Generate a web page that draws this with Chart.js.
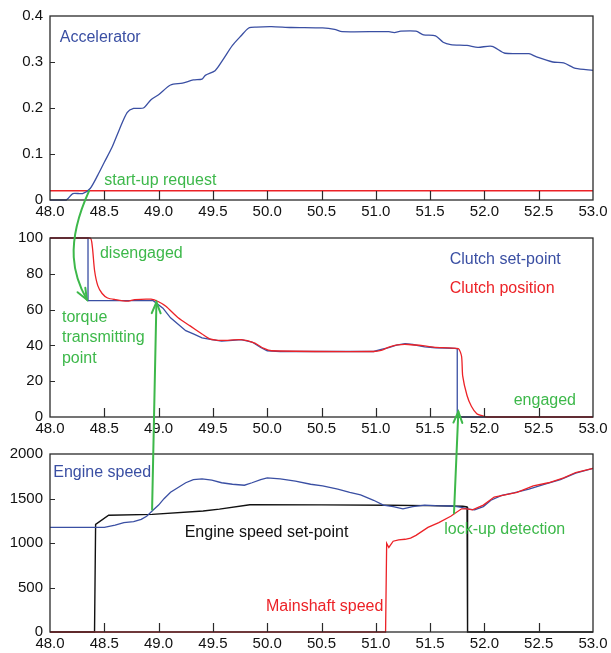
<!DOCTYPE html>
<html>
<head>
<meta charset="utf-8">
<script src="https://cdn.jsdelivr.net/npm/chart.js@4/dist/chart.umd.min.js"></script>
<style>
  html, body { margin: 0; padding: 0; background: #fff; }
  #wrap { position: relative; width: 611px; height: 653px; }
  canvas { position: absolute; left: 0; }
</style>
</head>
<body>
<div id="wrap">
  <canvas id="c1" width="611" height="222" style="top:0px"></canvas>
  <canvas id="c2" width="611" height="216" style="top:222px"></canvas>
  <canvas id="c3" width="611" height="215" style="top:438px"></canvas>
  <canvas id="ov" width="611" height="653" style="top:0px;pointer-events:none"></canvas>
</div>
<script>
// ---------- data ----------
const timeTicks = [48.0, 48.5, 49.0, 49.5, 50.0, 50.5, 51.0, 51.5, 52.0, 52.5, 53.0];

// Panel 1: accelerator
const accelT = [48.0, 48.15, 48.21, 48.30, 48.37, 48.44, 48.50, 48.57, 48.64, 48.71, 48.77, 48.86, 48.93, 49.0, 49.11, 49.22, 49.32, 49.40, 49.43, 49.52, 49.59, 49.68, 49.76, 49.83, 49.90, 50.04, 50.22, 50.51, 50.62, 50.69, 51.12, 51.17, 51.23, 51.37, 51.44, 51.55, 51.62, 51.69, 51.84, 51.94, 52.07, 52.19, 52.41, 52.48, 52.63, 52.73, 52.84, 53.0];
const accelV = [0, 0, 0.014, 0.014, 0.025, 0.054, 0.082, 0.114, 0.154, 0.19, 0.199, 0.2, 0.218, 0.229, 0.25, 0.254, 0.261, 0.263, 0.271, 0.281, 0.304, 0.336, 0.357, 0.374, 0.376, 0.377, 0.375, 0.374, 0.371, 0.366, 0.366, 0.364, 0.367, 0.367, 0.359, 0.357, 0.343, 0.338, 0.336, 0.332, 0.334, 0.319, 0.318, 0.311, 0.3, 0.298, 0.286, 0.282];
const startReqT = [48.0, 53.0];
const startReqV = [0.02, 0.02];

// Panel 2: clutch
const clutchSetT = [48.0, 48.35, 48.35, 48.95, 49.04, 49.11, 49.18, 49.25, 49.32, 49.40, 49.49, 49.58, 49.68, 49.76, 49.86, 49.94, 50.0, 50.12, 50.98, 51.05, 51.12, 51.19, 51.27, 51.34, 51.45, 51.55, 51.73, 51.75, 51.75, 53.0];
const clutchSetV = [100, 100, 65, 65, 60.8, 55.4, 51.8, 48.2, 46.4, 44.2, 43.2, 42.4, 42.8, 43.2, 41.9, 38.8, 37, 36.6, 36.6, 37.8, 38.8, 40.1, 41, 40.5, 39.2, 38.7, 38.3, 38.0, 0, 0];
const clutchPosT = [48.0, 48.37, 48.39, 48.41, 48.44, 48.48, 48.53, 48.60, 48.71, 48.78, 48.93, 49.0, 49.07, 49.18, 49.29, 49.40, 49.47, 49.58, 49.76, 49.88, 49.97, 50.04, 50.98, 51.05, 51.12, 51.2, 51.3, 51.45, 51.55, 51.76, 51.79, 51.80, 51.84, 51.88, 51.93, 51.99, 52.02, 53.0];
const clutchPosV = [100, 100, 95, 82, 73.4, 69, 66.5, 65.6, 64.7, 65.6, 65.8, 64.4, 61.7, 55.4, 50.9, 46.4, 43.7, 42.8, 43.2, 41.4, 38.3, 37, 36.6, 37.2, 39, 40.3, 40.5, 39.7, 38.9, 38.2, 33.8, 23, 12, 6, 1.8, 0.5, 0, 0];

// Panel 3: speeds (rpm)
const engT = [48.0, 48.5, 48.6, 48.68, 48.77, 48.84, 48.89, 48.95, 49.0, 49.05, 49.11, 49.18, 49.25, 49.32, 49.40, 49.49, 49.58, 49.68, 49.79, 49.86, 49.94, 50.0, 50.12, 50.26, 50.40, 50.51, 50.65, 50.76, 50.86, 50.98, 51.07, 51.16, 51.25, 51.34, 51.45, 51.55, 51.70, 51.79, 51.84, 51.91, 51.99, 52.06, 52.16, 52.27, 52.41, 52.55, 52.70, 52.84, 53.0];
const engV = [1175, 1175, 1200, 1229, 1240, 1265, 1301, 1370, 1426, 1498, 1570, 1624, 1677, 1713, 1720, 1706, 1677, 1660, 1649, 1677, 1713, 1731, 1720, 1695, 1660, 1642, 1606, 1570, 1541, 1480, 1426, 1409, 1384, 1409, 1426, 1419, 1416, 1401, 1384, 1373, 1409, 1480, 1534, 1563, 1606, 1660, 1713, 1785, 1839];
const engSetT = [48.0, 48.41, 48.42, 48.54, 48.94, 49.41, 49.56, 49.84, 50.5, 51.12, 51.48, 51.80, 51.84, 51.845, 53.0];
const engSetV = [0, 0, 1210, 1312, 1322, 1360, 1380, 1430, 1428, 1424, 1420, 1413, 1405, 0, 0];
const mainT = [48.0, 51.09, 51.10, 51.12, 51.16, 51.21, 51.27, 51.32, 51.37, 51.48, 51.58, 51.69, 51.79, 51.84, 51.89, 51.99, 52.09, 52.19, 52.30, 52.45, 52.59, 52.73, 52.84, 53.0];
const mainV = [0, 0, 996, 950, 1020, 1035, 1042, 1055, 1086, 1176, 1229, 1301, 1384, 1384, 1373, 1426, 1516, 1541, 1570, 1642, 1677, 1731, 1792, 1839];

// ---------- style ----------
const BLUE = '#3a4fa3', RED = '#ec2227', GREEN = '#3db84a', BLACK = '#111';
const FONT = '"Liberation Sans", Arial, Helvetica, sans-serif';
const pts = (t, v) => t.map((x, i) => ({ x: x, y: v[i] }));

function framePlugin(labels) {
  return {
    id: 'frame',
    afterDatasetsDraw(chart) {
      const ctx = chart.ctx, a = chart.chartArea, xs = chart.scales.x, ys = chart.scales.y;
      ctx.save();
      ctx.strokeStyle = '#2a2a2a';
      ctx.lineWidth = 1.3;
      ctx.strokeRect(a.left, a.top, a.right - a.left, a.bottom - a.top);
      ctx.lineWidth = 1.2;
      ctx.beginPath();
      xs.ticks.forEach((t, i) => {
        if (i === 0 || i === xs.ticks.length - 1) return;
        const px = Math.round(xs.getPixelForValue(t.value)) + 0.5;
        ctx.moveTo(px, a.bottom);
        ctx.lineTo(px, a.bottom - 9);
      });
      ys.ticks.forEach((t, i) => {
        if (i === 0 || i === ys.ticks.length - 1) return;
        const py = Math.round(ys.getPixelForValue(t.value)) + 0.5;
        ctx.moveTo(a.left, py);
        ctx.lineTo(a.left + 5, py);
      });
      ctx.stroke();
      ctx.font = '16px ' + FONT;
      ctx.textBaseline = 'middle';
      labels.forEach(l => {
        ctx.fillStyle = l.color;
        ctx.textAlign = l.align || 'left';
        ctx.fillText(l.text, xs.getPixelForValue(l.x), ys.getPixelForValue(l.y));
      });
      ctx.restore();
    }
  };
}

function makeChart(id, datasets, yMin, yMax, yStep, yFmt, padTop, xH, labels) {
  return new Chart(document.getElementById(id), {
    type: 'line',
    data: { datasets: datasets },
    options: {
      responsive: false,
      animation: false,
      events: [],
      layout: { padding: { left: 0, right: 18, top: padTop, bottom: 0 } },
      plugins: { legend: { display: false }, tooltip: { enabled: false } },
      elements: { point: { radius: 0 }, line: { tension: 0 } },
      scales: {
        x: {
          type: 'linear', min: 48, max: 53,
          grid: { display: false, drawTicks: false },
          border: { display: false },
          afterBuildTicks: s => { s.ticks = timeTicks.map(v => ({ value: v })); },
          afterFit: s => { s.height = xH; },
          ticks: {
            autoSkip: false, maxRotation: 0, padding: 3, color: '#111',
            font: { family: FONT, size: 15 },
            callback: v => Number(v).toFixed(1)
          }
        },
        y: {
          min: yMin, max: yMax,
          grid: { display: false, drawTicks: false },
          border: { display: false },
          afterFit: s => { s.width = 50; },
          ticks: {
            stepSize: yStep, padding: 7, color: '#111',
            font: { family: FONT, size: 15 },
            callback: yFmt
          }
        }
      }
    },
    plugins: [framePlugin(labels)]
  });
}

const ch1 = makeChart('c1', [
  { data: pts(accelT, accelV), borderColor: BLUE, borderWidth: 1.3, tension: 0.25, clip: false },
  { data: pts(startReqT, startReqV), borderColor: RED, borderWidth: 1.5, clip: false }
], 0, 0.4, 0.1, v => (v === 0 ? '0' : Number(v).toFixed(1)), 15, 22, [
  { text: 'Accelerator', x: 48.09, y: 0.352, color: BLUE },
  { text: 'start-up request', x: 48.50, y: 0.042, color: GREEN }
]);

const ch2 = makeChart('c2', [
  { data: pts(clutchPosT, clutchPosV), borderColor: RED, borderWidth: 1.3, tension: 0.2, clip: false },
  { data: pts(clutchSetT, clutchSetV), borderColor: BLUE, borderWidth: 1.3, clip: false }
], 0, 100, 20, v => String(v), 10, 21, [
  { text: 'disengaged', x: 48.46, y: 91.4, color: GREEN },
  { text: 'Clutch set-point', x: 51.68, y: 88, color: BLUE },
  { text: 'Clutch position', x: 51.68, y: 71.6, color: RED },
  { text: 'torque', x: 48.11, y: 55.8, color: GREEN },
  { text: 'transmitting', x: 48.11, y: 44.6, color: GREEN },
  { text: 'point', x: 48.11, y: 32.6, color: GREEN },
  { text: 'engaged', x: 52.27, y: 9.2, color: GREEN }
]);

const ch3 = makeChart('c3', [
  { data: pts(mainT, mainV), borderColor: RED, borderWidth: 1.3, clip: false },
  { data: pts(engT, engV), borderColor: BLUE, borderWidth: 1.3, clip: false },
  { data: pts(engSetT, engSetV), borderColor: BLACK, borderWidth: 1.4, clip: false }
], 0, 2000, 500, v => String(v), 10, 21, [
  { text: 'Engine speed', x: 48.03, y: 1790, color: BLUE },
  { text: 'Engine speed set-point', x: 49.24, y: 1120, color: BLACK },
  { text: 'lock-up detection', x: 51.63, y: 1150, color: GREEN },
  { text: 'Mainshaft speed', x: 51.07, y: 285, color: RED, align: 'right' }
]);

// ---------- green arrows on overlay, through each chart's scales ----------
const offs = { c1: 0, c2: 222, c3: 438 };
function P(ch, off, x, y) { return [ch.scales.x.getPixelForValue(x), off + ch.scales.y.getPixelForValue(y)]; }
const ov = document.getElementById('ov').getContext('2d');
ov.strokeStyle = GREEN;
ov.lineWidth = 2;
ov.lineCap = 'round';
function head(tip, from) {
  const ang = Math.atan2(tip[1] - from[1], tip[0] - from[0]);
  const L = 12, w = 0.38;
  ov.beginPath();
  ov.moveTo(tip[0] - L * Math.cos(ang - w), tip[1] - L * Math.sin(ang - w));
  ov.lineTo(tip[0], tip[1]);
  ov.lineTo(tip[0] - L * Math.cos(ang + w), tip[1] - L * Math.sin(ang + w));
  ov.stroke();
}
// curved arrow: start-up request -> torque transmitting point
const s1 = P(ch1, offs.c1, 48.36, 0.02);
const k1 = P(ch2, offs.c2, 48.13, 95.7);
const k2 = P(ch2, offs.c2, 48.22, 78.4);
const e1 = P(ch2, offs.c2, 48.34, 65.5);
ov.beginPath();
ov.moveTo(s1[0], s1[1]);
ov.bezierCurveTo(k1[0], k1[1], k2[0], k2[1], e1[0], e1[1]);
ov.stroke();
head(e1, k2);
// straight arrows from engine-speed panel up to clutch panel
[[48.94, 1375, 48.98, 64.2], [51.72, 1335, 51.76, 3]].forEach(a => {
  const s = P(ch3, offs.c3, a[0], a[1]);
  const e = P(ch2, offs.c2, a[2], a[3]);
  ov.beginPath();
  ov.moveTo(s[0], s[1]);
  ov.lineTo(e[0], e[1]);
  ov.stroke();
  head(e, s);
});
</script>
</body>
</html>
